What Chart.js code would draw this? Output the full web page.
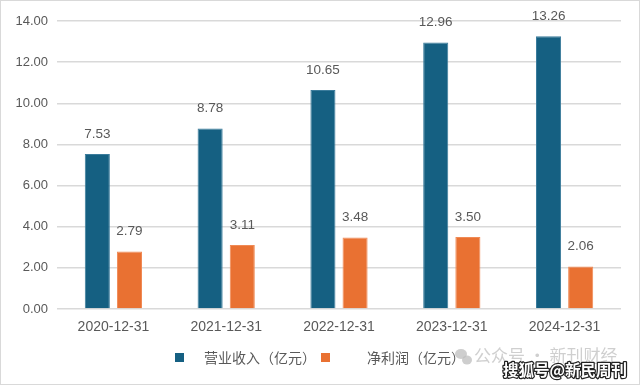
<!DOCTYPE html>
<html>
<head>
<meta charset="utf-8">
<script src="https://cdn.jsdelivr.net/npm/chart.js@4"></script>
<style>
  html, body { margin: 0; padding: 0; background: #fff; }
  #wrap { position: relative; width: 638px; height: 383px; border: 1px solid #d9d9d9; }
  canvas { display: block; }
</style>
</head>
<body>
<div id="wrap"><canvas id="chart" width="638" height="383"></canvas></div>
<script>
const categories = ['2020-12-31', '2021-12-31', '2022-12-31', '2023-12-31', '2024-12-31'];
const revenue = [7.53, 8.78, 10.65, 12.96, 13.26];
const profit = [2.79, 3.11, 3.48, 3.50, 2.06];
const seriesNames = ['营业收入（亿元）', '净利润（亿元）'];
const yTicks = [0, 2, 4, 6, 8, 10, 12, 14];

const textGrey = '#595959';
const numFont = '"Liberation Sans", Arial, sans-serif';
const cjkFont = '"Noto Sans CJK SC", "Liberation Sans", sans-serif';

// value labels above every bar
const barLabels = {
    id: 'barLabels',
    afterDatasetsDraw(chart) {
        const ctx = chart.ctx;
        ctx.save();
        ctx.font = '13.5px ' + numFont;
        ctx.fillStyle = textGrey;
        ctx.textAlign = 'center';
        ctx.textBaseline = 'middle';
        chart.data.datasets.forEach((ds, i) => {
            chart.getDatasetMeta(i).data.forEach((bar, j) => {
                ctx.fillText(ds.data[j].toFixed(2), bar.x, bar.y - 20);
            });
        });
        ctx.restore();
    }
};

// legend and page marks drawn by hand to hold the spacing of the original
const legendAndMarks = {
    id: 'legendAndMarks',
    afterDraw(chart) {
        const ctx = chart.ctx;
        ctx.save();
        const items = [
            { box: 174, text: 203 },
            { box: 320, text: 366 }
        ];
        ctx.font = '14px ' + cjkFont;
        ctx.textBaseline = 'middle';
        chart.data.datasets.forEach((ds, i) => {
            ctx.fillStyle = ds.backgroundColor;
            ctx.fillRect(items[i].box, 352, 9, 9);
            ctx.fillStyle = textGrey;
            ctx.fillText(ds.label, items[i].text, 357);
        });

        // faint account mark
        ctx.fillStyle = 'rgba(190,190,190,0.75)';
        ctx.beginPath();
        ctx.ellipse(460, 353, 6, 5, 0, 0, Math.PI * 2);
        ctx.fill();
        ctx.beginPath();
        ctx.ellipse(466, 359, 5, 4.5, 0, 0, Math.PI * 2);
        ctx.fill();
        ctx.font = '17px ' + cjkFont;
        ctx.fillStyle = 'rgba(195,195,195,0.8)';
        ctx.fillText('公众号 · 新刊财经', 473, 355);

        ctx.font = 'bold 15.5px ' + cjkFont;
        ctx.lineWidth = 2.5;
        ctx.strokeStyle = '#222';
        ctx.lineJoin = 'round';
        ctx.strokeText('搜狐号@新民周刊', 502, 369);
        ctx.fillStyle = '#fff';
        ctx.fillText('搜狐号@新民周刊', 502, 369);
        ctx.restore();
    }
};

new Chart(document.getElementById('chart').getContext('2d'), {
    type: 'bar',
    data: {
        labels: categories,
        datasets: [
            { label: seriesNames[0], data: revenue, backgroundColor: '#156082', borderColor: '#3b7c9c', borderWidth: 1 },
            { label: seriesNames[1], data: profit, backgroundColor: '#e97132', borderColor: '#f08a55', borderWidth: 1 }
        ]
    },
    options: {
        responsive: false,
        animation: false,
        devicePixelRatio: 1,
        datasets: { bar: { categoryPercentage: 0.57, barPercentage: 0.78 } },
        layout: { padding: { top: 20, right: 18, left: 0, bottom: 0 } },
        plugins: { legend: { display: false }, tooltip: { enabled: false } },
        scales: {
            x: {
                grid: { display: false, drawTicks: false },
                border: { display: false },
                ticks: { color: textGrey, font: { family: numFont, size: 14 }, padding: 10, maxRotation: 0 },
                afterFit(scale) { scale.height = 75; }
            },
            y: {
                min: 0,
                max: 14,
                afterBuildTicks(scale) { scale.ticks = yTicks.map(v => ({ value: v })); },
                grid: { color: '#d9d9d9', lineWidth: 1.5, drawTicks: false },
                border: { display: false },
                ticks: { color: textGrey, font: { family: numFont, size: 13 }, padding: 9, callback: v => v.toFixed(2) },
                afterFit(scale) { scale.width = 56; }
            }
        }
    },
    plugins: [barLabels, legendAndMarks]
});
</script>
</body>
</html>
